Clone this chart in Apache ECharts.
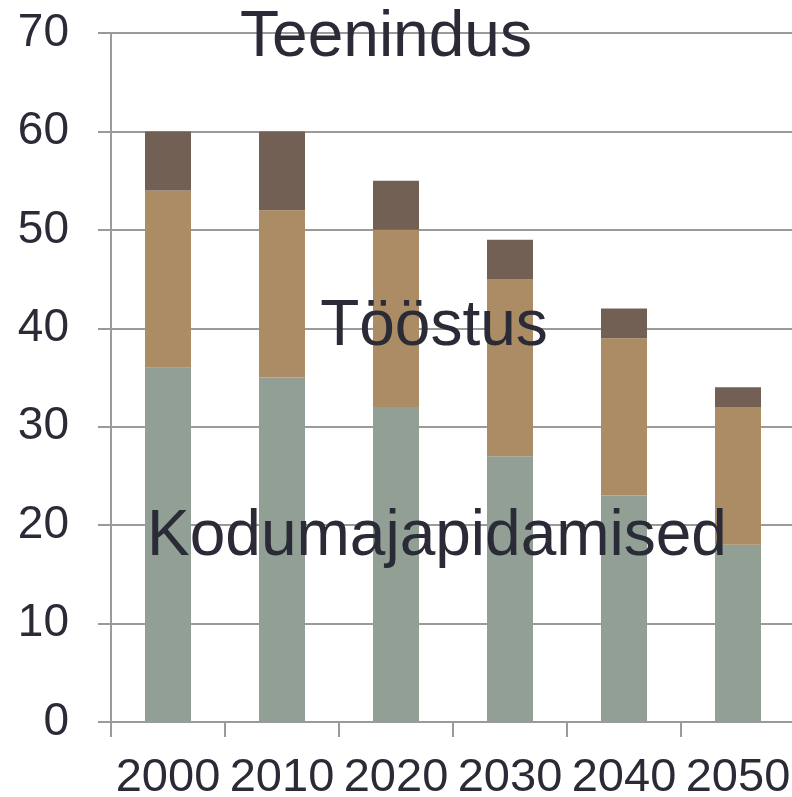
<!DOCTYPE html>
<html>
<head>
<meta charset="utf-8">
<script src="https://cdn.jsdelivr.net/npm/echarts@6/dist/echarts.min.js"></script>
<style>
    html, body { margin: 0; padding: 0; background: #fff; }
    #grafico { width: 792px; height: 797px; }
</style>
</head>
<body>
<div id="grafico"></div>
<script>
var aastad = ['2000', '2010', '2020', '2030', '2040', '2050'];
var kodumajapidamised = [36, 35, 32, 27, 23, 18];
var toostus = [18, 17, 18, 18, 16, 14];
var teenindus = [6, 8, 5, 4, 3, 2];
var yTicks = [0, 10, 20, 30, 40, 50, 60, 70];

var colorTexto = '#2a2b36';
var colorEje = '#9a9a9a';
var fuente = '"Liberation Sans", Arial, sans-serif';

var chart = echarts.init(document.getElementById('grafico'));

function serie(nombre, datos, color) {
    return {
        name: nombre,
        type: 'bar',
        stack: 'total',
        barWidth: 46,
        data: datos,
        itemStyle: { color: color },
        emphasis: { disabled: true }
    };
}

// etiquetas de texto grandes sobre el gráfico
function etiqueta(texto, x, y) {
    return {
        type: 'text',
        x: x,
        y: y,
        z: 100,
        style: {
            text: texto,
            fill: colorTexto,
            font: '64px ' + fuente,
            align: 'center',
            verticalAlign: 'middle'
        }
    };
}

chart.setOption({
    animation: false,
    textStyle: { fontFamily: fuente },
    grid: { left: 111, top: 33, width: 684, bottom: 75, containLabel: false, outerBoundsMode: 'none' },
    xAxis: {
        type: 'category',
        data: aastad,
        axisLine: { lineStyle: { color: colorEje, width: 2 } },
        axisTick: { show: true, length: 15, lineStyle: { color: colorEje, width: 2 } },
        axisLabel: { color: colorTexto, fontSize: 47, margin: 33, interval: 0 },
        splitLine: { show: false }
    },
    yAxis: {
        type: 'value',
        min: yTicks[0],
        max: yTicks[yTicks.length - 1],
        interval: 10,
        axisLine: { show: true, lineStyle: { color: colorEje, width: 2 } },
        axisTick: { show: true, length: 13, lineStyle: { color: colorEje, width: 2 } },
        axisLabel: { color: colorTexto, fontSize: 46, margin: 42 },
        splitLine: { show: true, lineStyle: { color: colorEje, width: 2 } }
    },
    series: [
        serie('Kodumajapidamised', kodumajapidamised, '#919f95'),
        serie('Tööstus', toostus, '#ac8c64'),
        serie('Teenindus', teenindus, '#736054')
    ],
    graphic: [
        etiqueta('Teenindus', 386, 38),
        etiqueta('Tööstus', 434, 327),
        etiqueta('Kodumajapidamised', 437, 537)
    ]
});
</script>
</body>
</html>
